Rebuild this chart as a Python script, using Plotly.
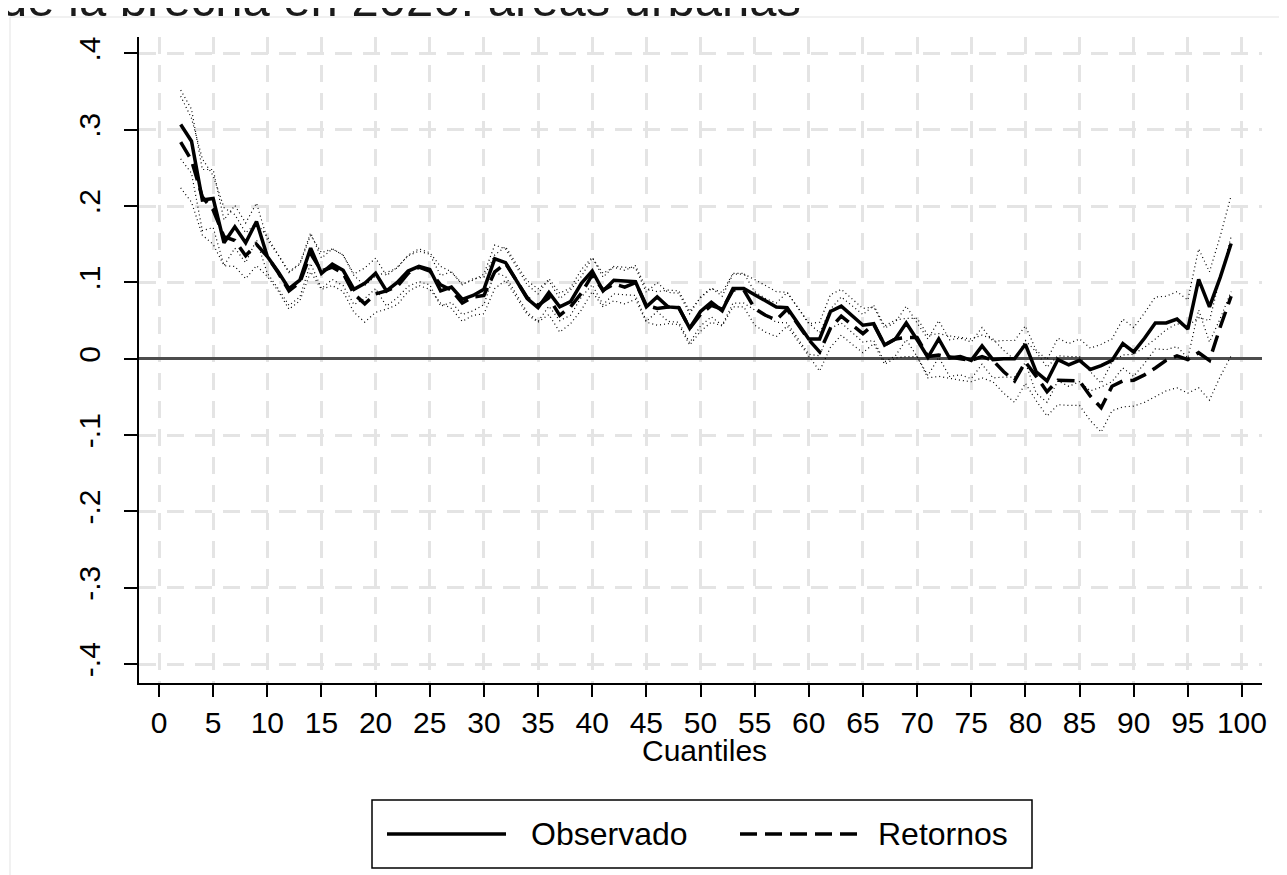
import plotly.graph_objects as go

# ---------------- data ----------------
cuantiles = list(range(2, 100))

observado = [
    0.307, 0.285, 0.208, 0.210, 0.152, 0.173, 0.152, 0.180, 0.134,          # 2-10
    0.114, 0.092, 0.103, 0.145, 0.112, 0.124, 0.116, 0.091, 0.099, 0.112,   # 11-20
    0.089, 0.100, 0.115, 0.121, 0.117, 0.089, 0.094, 0.078, 0.083, 0.091,   # 21-30
    0.131, 0.126, 0.103, 0.079, 0.067, 0.087, 0.068, 0.075, 0.099, 0.115,   # 31-40
    0.089, 0.103, 0.102, 0.101, 0.068, 0.081, 0.068, 0.067, 0.040, 0.062,   # 41-50
    0.074, 0.063, 0.092, 0.092, 0.084, 0.076, 0.068, 0.067, 0.046, 0.026,   # 51-60
    0.026, 0.062, 0.069, 0.057, 0.044, 0.046, 0.018, 0.026, 0.047, 0.025,   # 61-70
    0.002, 0.026, 0.001, 0.003, -0.002, 0.017, -0.001, 0.000, 0.000, 0.019, # 71-80
    -0.017, -0.029, -0.001, -0.008, -0.002, -0.014, -0.009, -0.002, 0.020, 0.009,  # 81-90
    0.027, 0.047, 0.047, 0.052, 0.039, 0.104, 0.068, 0.107, 0.151,          # 91-99
]

retornos = [
    0.284, 0.260, 0.212, 0.195, 0.160, 0.155, 0.135, 0.150, 0.134,          # 2-10
    0.113, 0.089, 0.100, 0.138, 0.115, 0.120, 0.112, 0.085, 0.072, 0.085,   # 11-20
    0.089, 0.095, 0.112, 0.120, 0.115, 0.097, 0.090, 0.073, 0.081, 0.083,   # 21-30
    0.114, 0.125, 0.102, 0.080, 0.070, 0.080, 0.057, 0.068, 0.086, 0.110,   # 31-40
    0.090, 0.098, 0.094, 0.100, 0.070, 0.066, 0.068, 0.067, 0.040, 0.058,   # 41-50
    0.070, 0.065, 0.090, 0.090, 0.066, 0.057, 0.051, 0.065, 0.045, 0.025,   # 51-60
    0.009, 0.040, 0.056, 0.044, 0.033, 0.045, 0.018, 0.026, 0.028, 0.028,   # 61-70
    0.003, 0.005, 0.002, 0.000, -0.002, 0.003, -0.002, -0.017, -0.029, -0.004,  # 71-80
    -0.023, -0.043, -0.028, -0.029, -0.029, -0.049, -0.064, -0.036, -0.029, -0.028,  # 81-90
    -0.021, -0.012, -0.002, 0.004, -0.001, 0.008, -0.002, 0.042, 0.082,     # 91-99
]

# half-width of the dotted confidence bands
observado_ic = [
    0.045, 0.042, 0.040, 0.038, 0.030, 0.028, 0.026, 0.024, 0.022,
    0.022, 0.022, 0.022, 0.020, 0.020, 0.020, 0.020, 0.020, 0.020, 0.020,
    0.020, 0.020, 0.020, 0.020, 0.020, 0.020, 0.020, 0.020, 0.020, 0.020,
    0.018, 0.018, 0.018, 0.018, 0.018, 0.018, 0.018, 0.018, 0.018, 0.018,
    0.018, 0.018, 0.018, 0.018, 0.019, 0.019, 0.019, 0.019, 0.019, 0.019,
    0.019, 0.019, 0.019, 0.019, 0.020, 0.020, 0.020, 0.020, 0.020, 0.020,
    0.022, 0.022, 0.022, 0.022, 0.022, 0.022, 0.022, 0.022, 0.022, 0.022,
    0.024, 0.024, 0.024, 0.024, 0.024, 0.024, 0.024, 0.024, 0.024, 0.024,
    0.028, 0.028, 0.028, 0.028, 0.028, 0.028, 0.028, 0.028, 0.032, 0.032,
    0.033, 0.034, 0.035, 0.036, 0.038, 0.040, 0.046, 0.054, 0.063,
]

retornos_ic = [
    0.060, 0.055, 0.050, 0.045, 0.038, 0.034, 0.030, 0.028, 0.026,
    0.024, 0.024, 0.024, 0.024, 0.024, 0.024, 0.024, 0.024, 0.024, 0.024,
    0.024, 0.024, 0.024, 0.024, 0.024, 0.024, 0.024, 0.024, 0.024, 0.024,
    0.022, 0.022, 0.022, 0.022, 0.022, 0.022, 0.022, 0.022, 0.022, 0.022,
    0.022, 0.022, 0.022, 0.022, 0.022, 0.022, 0.022, 0.022, 0.022, 0.022,
    0.022, 0.022, 0.022, 0.022, 0.022, 0.022, 0.022, 0.022, 0.022, 0.022,
    0.025, 0.025, 0.025, 0.025, 0.025, 0.025, 0.025, 0.025, 0.025, 0.025,
    0.028, 0.028, 0.028, 0.028, 0.028, 0.028, 0.028, 0.028, 0.028, 0.028,
    0.032, 0.032, 0.032, 0.032, 0.032, 0.032, 0.032, 0.032, 0.034, 0.034,
    0.036, 0.038, 0.040, 0.042, 0.044, 0.046, 0.052, 0.065, 0.078,
]

x_ticks = list(range(0, 101, 5))
y_ticks = [-0.4, -0.3, -0.2, -0.1, 0.0, 0.1, 0.2, 0.3, 0.4]
y_ticktext = ["-.4", "-.3", "-.2", "-.1", "0", ".1", ".2", ".3", ".4"]

titulo = "de la brecha en 2020: áreas urbanas"
eje_x = "Cuantiles"
nombres = ["Observado", "Retornos"]

# ---------------- layout helpers (page pixel coordinates) ----------------
OFF = 8                       # default body margin of the html page
PAGE_W, PAGE_H = 1287, 875
FIG_W, FIG_H = PAGE_W - OFF, PAGE_H - OFF
L, R, T, B = 139, 1262, 37, 683   # plot area on the page
PW, PH = R - L, B - T


def px_x(px):
    return (px - L) / PW


def px_y(py):
    return (B - py) / PH


FONT = "Liberation Sans, Arial, sans-serif"

fig = go.Figure()

dot_style = dict(color="black", width=1.2, dash="1px,3px")
for est, ic in ((observado, observado_ic), (retornos, retornos_ic)):
    up = [round(v + h, 4) for v, h in zip(est, ic)]
    lo = [round(v - h, 4) for v, h in zip(est, ic)]
    fig.add_trace(go.Scatter(x=cuantiles, y=up, mode="lines", line=dot_style,
                             showlegend=False, hoverinfo="skip"))
    fig.add_trace(go.Scatter(x=cuantiles, y=lo, mode="lines", line=dot_style,
                             showlegend=False, hoverinfo="skip"))

fig.add_trace(go.Scatter(x=cuantiles, y=retornos, mode="lines", name=nombres[1],
                         line=dict(color="black", width=3.5, dash="17px,8px"),
                         showlegend=False))
fig.add_trace(go.Scatter(x=cuantiles, y=observado, mode="lines", name=nombres[0],
                         line=dict(color="black", width=3.5),
                         showlegend=False))

grid_common = dict(showgrid=True, gridcolor="#e4e4e4", gridwidth=2.5,
                   griddash="17px,11px")

fig.update_xaxes(
    range=[-1.85, 101.85], tickvals=x_ticks, ticktext=[str(v) for v in x_ticks],
    showline=True, linecolor="black", linewidth=1.5,
    ticks="outside", ticklen=12, tickwidth=1.5, tickcolor="black",
    tickfont=dict(family=FONT, size=30, color="black"),
    zeroline=False, **grid_common,
)
fig.update_yaxes(
    range=[-0.4247, 0.4216], tickvals=y_ticks, ticktext=y_ticktext,
    showline=True, linecolor="black", linewidth=1.5,
    ticks="outside", ticklen=13, tickwidth=1.5, tickcolor="black",
    tickangle=-90, ticklabelstandoff=12,
    tickfont=dict(family=FONT, size=30, color="black"),
    zeroline=True, zerolinecolor="#4d4d4d", zerolinewidth=3,
    **grid_common,
)

shapes = [
    # outer graph-region border
    dict(type="rect", xref="paper", yref="paper",
         x0=px_x(10), x1=px_x(1284), y0=px_y(900), y1=px_y(17),
         line=dict(color="#e3e3e3", width=1), layer="below"),
    # legend box
    dict(type="rect", xref="paper", yref="paper",
         x0=px_x(372), x1=px_x(1032), y0=px_y(868), y1=px_y(800),
         line=dict(color="black", width=1.5), fillcolor="white"),
    dict(type="line", xref="paper", yref="paper",
         x0=px_x(387), x1=px_x(506), y0=px_y(834), y1=px_y(834),
         line=dict(color="black", width=3.5)),
    dict(type="line", xref="paper", yref="paper",
         x0=px_x(740), x1=px_x(862), y0=px_y(834), y1=px_y(834),
         line=dict(color="black", width=3.5, dash="17px,8px")),
]

annotations = [
    dict(text=titulo, xref="paper", yref="paper", x=px_x(-2), y=px_y(28),
         xanchor="left", yanchor="bottom", showarrow=False,
         font=dict(family=FONT, size=49, color="#1a1a1a")),
    dict(text=eje_x, xref="paper", yref="paper", x=px_x(704), y=px_y(751),
         xanchor="center", yanchor="middle", showarrow=False,
         font=dict(family=FONT, size=30, color="black")),
    dict(text=nombres[0], xref="paper", yref="paper", x=px_x(529), y=px_y(834),
         xanchor="left", yanchor="middle", showarrow=False,
         font=dict(family=FONT, size=32, color="black")),
    dict(text=nombres[1], xref="paper", yref="paper", x=px_x(876), y=px_y(834),
         xanchor="left", yanchor="middle", showarrow=False,
         font=dict(family=FONT, size=32, color="black")),
]

fig.update_layout(
    width=FIG_W, height=FIG_H,
    margin=dict(l=L - OFF, r=PAGE_W - R, t=T - OFF, b=PAGE_H - B, autoexpand=False),
    paper_bgcolor="white", plot_bgcolor="white",
    shapes=shapes, annotations=annotations,
    showlegend=False,
    font=dict(family=FONT, color="black"),
)

fig.write_html("out.html")
